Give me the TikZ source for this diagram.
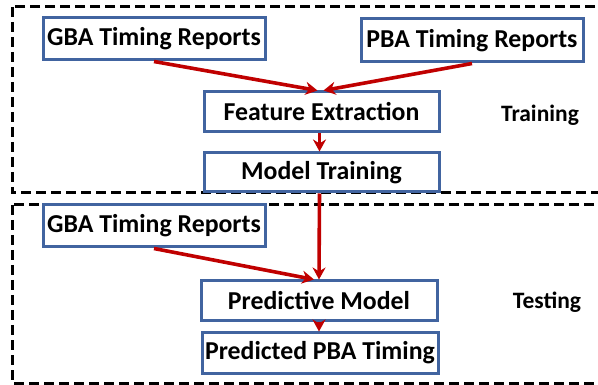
\documentclass[tikz,border=0pt]{standalone}
\usepackage{fontspec}
\setmainfont{Carlito}
\usetikzlibrary{arrows.meta}
\definecolor{boxblue}{RGB}{65,100,160}
\definecolor{flowred}{RGB}{192,0,0}
\begin{document}
\begin{tikzpicture}[x=1pt,y=-1pt,
  stepbox/.style={draw=boxblue, line width=3pt, fill=white, inner sep=0pt,
    font=\fontsize{25.8}{30}\selectfont\bfseries},
  flow/.style={draw=flowred, line width=3.6pt, -{Stealth[length=12pt,width=13pt]}},
  region/.style={draw=black, line width=3pt, dash pattern=on 10pt off 5pt},
  phase/.style={font=\fontsize{23.5}{28}\selectfont\bfseries}]
\clip (0,0) rectangle (598,385);
\fill[white] (0,0) rectangle (598,385);
% training and testing regions (open on the right)
\draw[region] (12,7) rectangle (620,193);
\draw[region] (12,205) rectangle (620,383);
% training flow
\node[stepbox, minimum width=222pt, minimum height=42pt] (gbaA) at (154,39) {GBA Timing Reports};
\node[stepbox, minimum width=222pt, minimum height=43pt] (pba) at (472,40.5) {PBA Timing Reports};
\node[stepbox, minimum width=235pt, minimum height=40pt] (feat) at (321.5,112) {Feature Extraction};
\node[stepbox, minimum width=235pt, minimum height=39pt] (train) at (321.5,172.5) {Model Training};
% testing flow
\node[stepbox, minimum width=222pt, minimum height=42pt] (gbaB) at (154,226) {GBA Timing Reports};
\node[stepbox, minimum width=236pt, minimum height=40pt] (pred) at (319,301) {Predictive Model};
\node[stepbox, minimum width=236pt, minimum height=40pt] (out) at (320,353) {Predicted PBA Timing};
% phase labels
\node[phase] (trainlbl) at (540,115) {Training};
\node[phase] (testlbl) at (547,302) {Testing};
% connectors
\draw[flow] (gbaA.south) -- ([xshift=-4pt]feat.north);
\draw[flow] (pba.south) -- ([xshift=2pt]feat.north);
\draw[flow] ([xshift=-2pt]feat.south) -- ([xshift=-2pt]train.north);
\draw[flow] ([xshift=-2pt]train.south) -- (pred.north);
\draw[flow] (gbaB.south) -- ([xshift=-5pt]pred.north);
\draw[flow] (pred.south) -- (pred.south |- out.north);
\end{tikzpicture}
\end{document}
